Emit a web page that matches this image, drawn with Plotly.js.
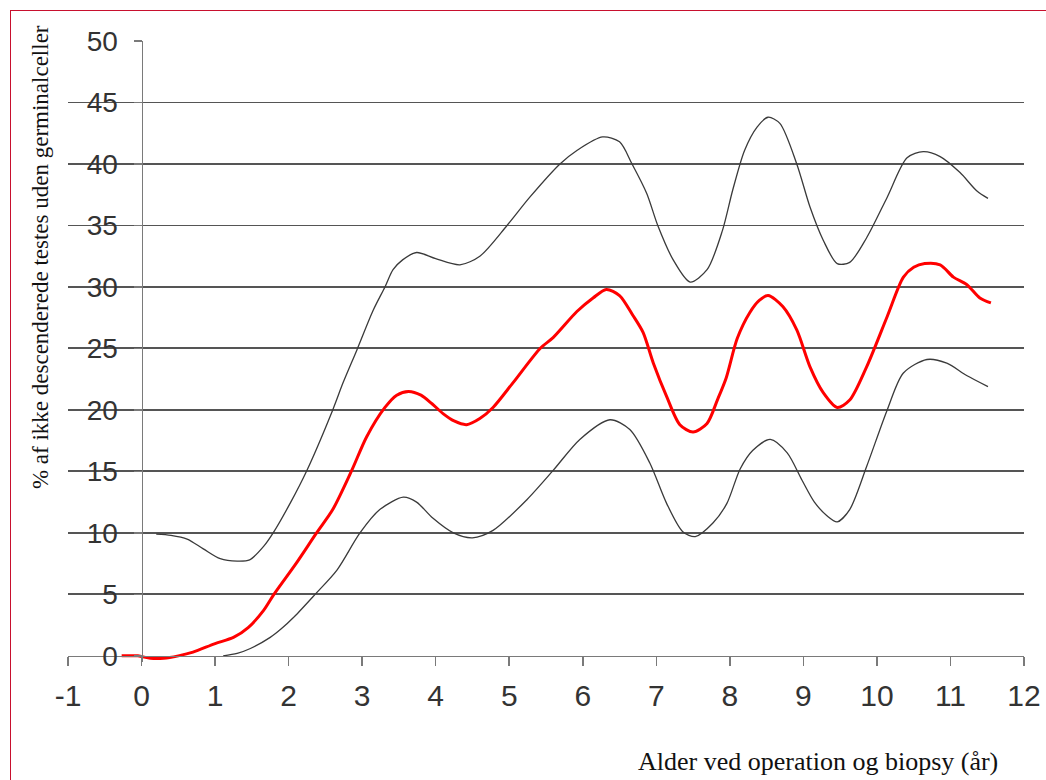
<!DOCTYPE html>
<html>
<head>
<meta charset="utf-8">
<script src="https://cdn.plot.ly/plotly-3.0.1.min.js"></script>
<style>
  html, body { margin: 0; padding: 0; background: #fff; }
  #wrap { position: relative; width: 1046px; height: 780px; overflow: hidden; }
  #chart { width: 1046px; height: 780px; }
  #frame { position: absolute; left: 10px; top: 10px; width: 1100px; height: 900px;
           border-left: 1.5px solid #c8102e; border-top: 1.5px solid #c8102e; pointer-events: none; }
</style>
</head>
<body>
<div id="wrap"><div id="chart"></div><div id="frame"></div></div>
<script>
// Mean curve (red)
const meanX = [-0.27, -0.05, 0.12, 0.3, 0.5, 0.7, 1.0, 1.25, 1.45, 1.66, 1.8, 2.1, 2.38, 2.6, 2.86, 3.06, 3.31, 3.47, 3.63, 3.8, 3.95, 4.1, 4.25, 4.42, 4.6, 4.78, 5.05, 5.42, 5.6, 5.92, 6.14, 6.32, 6.5, 6.68, 6.82, 6.96, 7.14, 7.32, 7.5, 7.69, 7.83, 7.95, 8.1, 8.27, 8.4, 8.52, 8.72, 8.91, 9.09, 9.27, 9.46, 9.63, 9.86, 10.14, 10.36, 10.5, 10.65, 10.86, 11.04, 11.22, 11.4, 11.55];
const meanY = [0, 0, -0.2, -0.2, 0.0, 0.3, 1.0, 1.5, 2.3, 3.7, 5.0, 7.5, 10.0, 11.9, 15.1, 17.8, 20.2, 21.2, 21.5, 21.2, 20.5, 19.7, 19.1, 18.8, 19.3, 20.2, 22.2, 25.0, 25.9, 28.0, 29.1, 29.8, 29.3, 27.7, 26.3, 23.8, 21.1, 18.8, 18.2, 18.9, 20.8, 22.6, 25.8, 27.9, 28.9, 29.3, 28.4, 26.5, 23.5, 21.4, 20.2, 20.8, 23.5, 27.6, 30.8, 31.6, 31.9, 31.8, 30.8, 30.2, 29.1, 28.7];

// Upper curve (black)
const upperX = [0.2, 0.4, 0.62, 0.84, 1.07, 1.3, 1.47, 1.66, 1.79, 2.02, 2.25, 2.6, 2.74, 2.93, 3.15, 3.31, 3.42, 3.55, 3.74, 4.0, 4.33, 4.6, 4.97, 5.28, 5.69, 5.92, 6.27, 6.5, 6.67, 6.87, 7.02, 7.23, 7.46, 7.69, 7.9, 8.04, 8.2, 8.37, 8.52, 8.68, 8.91, 9.09, 9.27, 9.46, 9.63, 9.86, 10.14, 10.41, 10.63, 10.86, 11.13, 11.36, 11.51];
const upperY = [9.9, 9.8, 9.5, 8.7, 7.9, 7.7, 7.8, 8.9, 10.0, 12.4, 15.1, 20.0, 22.2, 24.9, 28.1, 30.0, 31.4, 32.2, 32.8, 32.3, 31.8, 32.5, 35.0, 37.3, 40.0, 41.1, 42.2, 41.8, 40.0, 37.6, 35.0, 32.2, 30.4, 31.4, 34.6, 37.9, 41.1, 43.0, 43.8, 43.3, 40.0, 36.5, 33.8, 31.9, 32.0, 34.0, 37.3, 40.5, 41.0, 40.6, 39.3, 37.8, 37.2];

// Lower curve (black)
const lowerX = [1.11, 1.3, 1.48, 1.75, 1.9, 2.08, 2.36, 2.66, 2.97, 3.24, 3.56, 3.74, 3.96, 4.24, 4.5, 4.78, 5.24, 5.6, 5.96, 6.37, 6.64, 6.91, 7.14, 7.36, 7.53, 7.77, 7.96, 8.14, 8.31, 8.55, 8.78, 8.98, 9.15, 9.32, 9.46, 9.63, 9.86, 10.14, 10.36, 10.68, 10.95, 11.22, 11.51];
const lowerY = [0.0, 0.2, 0.6, 1.5, 2.2, 3.2, 5.0, 7.0, 10.0, 11.9, 12.9, 12.5, 11.2, 10.0, 9.6, 10.2, 12.7, 15.1, 17.6, 19.2, 18.4, 15.7, 12.4, 10.1, 9.7, 10.8, 12.4, 15.2, 16.7, 17.6, 16.5, 14.3, 12.5, 11.4, 10.9, 11.9, 15.4, 20.0, 23.0, 24.1, 23.8, 22.8, 21.9];

const gridVals = [5, 10, 15, 20, 25, 30, 35, 40, 45];
const yTickVals = [0, 5, 10, 15, 20, 25, 30, 35, 40, 45, 50];
const xTickVals = [-1, 0, 1, 2, 3, 4, 5, 6, 7, 8, 9, 10, 11, 12];
const yTitle = "% af ikke descenderede testes uden germinalceller";
const xTitle = "Alder ved operation og biopsy (år)";

const axisGray = '#7a7a7a';
const tickFont = { family: 'Liberation Sans, Arial, sans-serif', size: 28, color: '#333' };

const traces = [
  { x: upperX, y: upperY, mode: 'lines', line: { color: '#3a3a3a', width: 1.3, shape: 'spline', smoothing: 0.8 }, hoverinfo: 'skip' },
  { x: lowerX, y: lowerY, mode: 'lines', line: { color: '#3a3a3a', width: 1.3, shape: 'spline', smoothing: 0.8 }, hoverinfo: 'skip' },
  { x: meanX, y: meanY, xaxis: 'x', yaxis: 'y2', mode: 'lines', line: { color: '#ff0000', width: 3, shape: 'spline', smoothing: 0.8 }, hoverinfo: 'skip' }
];

const layout = {
  width: 1046, height: 780,
  margin: { l: 68, r: 22, t: 41, b: 118 },
  paper_bgcolor: '#fff', plot_bgcolor: '#fff',
  showlegend: false,
  xaxis: {
    range: [-1, 12], tickvals: xTickVals, ticktext: xTickVals.map(String),
    anchor: 'free', position: 0.5 / 50.5,
    showline: true, linecolor: axisGray, linewidth: 1.5,
    ticks: 'outside', ticklen: 9, tickcolor: axisGray, tickwidth: 1.5,
    showgrid: false, zeroline: false,
    tickfont: { family: tickFont.family, size: 30, color: '#333' },
    ticklabelstandoff: 4
  },
  yaxis: {
    range: [-0.5, 50], tickvals: gridVals, showticklabels: false, ticks: '',
    showgrid: true, gridcolor: '#555555', gridwidth: 1.9,
    zeroline: false, showline: false
  },
  yaxis2: {
    overlaying: 'y', anchor: 'free', position: 1 / 13, side: 'left',
    range: [-0.5, 50], tickvals: yTickVals, ticktext: yTickVals.map(String),
    showline: true, linecolor: axisGray, linewidth: 1.5,
    ticks: 'outside', ticklen: 8, tickcolor: axisGray, tickwidth: 1.5,
    showgrid: false, zeroline: false,
    tickfont: tickFont, ticklabelstandoff: 10
  },
  annotations: [
    { text: yTitle, xref: 'paper', yref: 'paper', x: -0.0293, y: 0.652,
      xanchor: 'center', yanchor: 'middle', textangle: -90, showarrow: false,
      font: { family: 'Liberation Serif, serif', size: 23, color: '#111' } },
    { text: xTitle, xref: 'paper', yref: 'paper', x: 0.7845, y: -0.161,
      xanchor: 'center', yanchor: 'middle', showarrow: false,
      font: { family: 'Liberation Serif, serif', size: 26, color: '#111' } }
  ]
};

Plotly.newPlot('chart', traces, layout, { staticPlot: true, displayModeBar: false });
</script>
</body>
</html>
